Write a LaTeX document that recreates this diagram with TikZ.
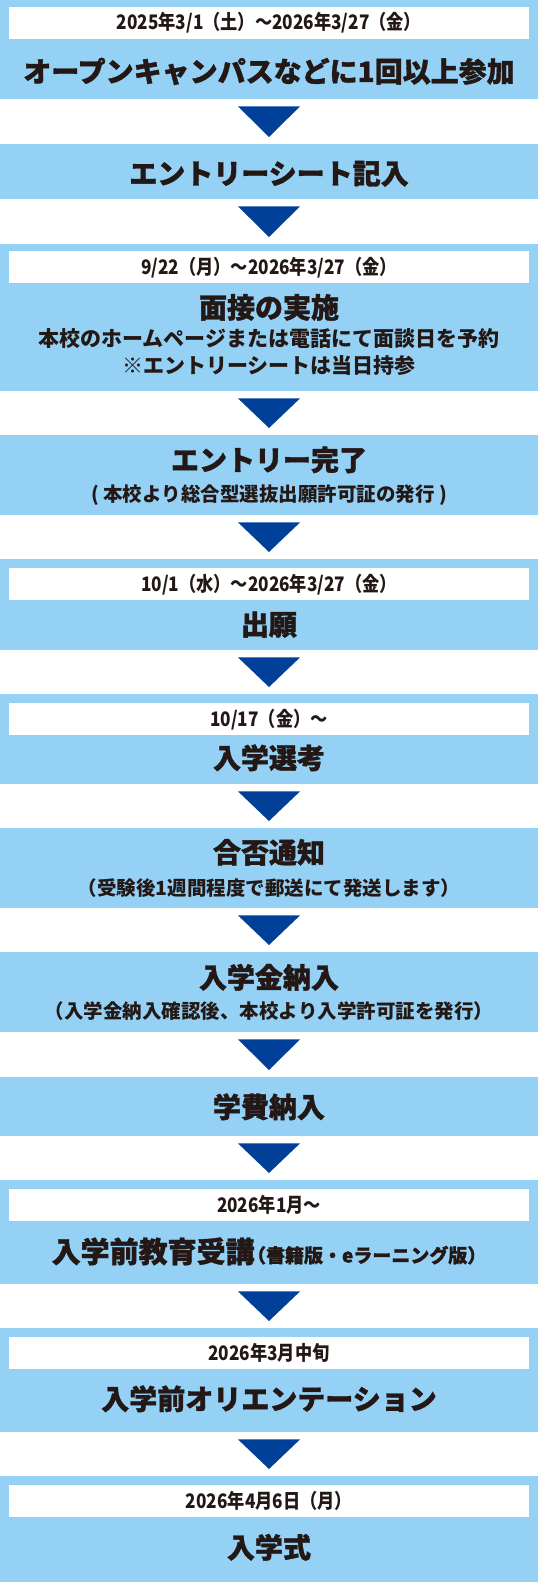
\documentclass[tikz,border=0pt]{standalone}
\usepackage{fontspec}
\setmainfont{Noto Sans CJK JP}
\newfontfamily\datefont{Noto Sans CJK JP}[FakeStretch=0.86]
\newfontfamily\titlefont{Noto Sans CJK JP}[BoldFeatures={FakeBold=1.2}]
\usetikzlibrary{calc}
\definecolor{skyblue}{HTML}{94D1F5}
\definecolor{navyblue}{HTML}{004098}
\definecolor{inkblack}{HTML}{231815}

\begin{document}
\begin{tikzpicture}[x=1bp,y=-1bp,
  stepbox/.style={fill=skyblue,inner sep=0,minimum width=538bp,anchor=north},
  datebox/.style={fill=white,inner sep=0,minimum width=519bp,minimum height=32bp,anchor=north,text=inkblack,font=\datefont\bfseries\fontsize{20bp}{20bp}\selectfont},
  title/.style={anchor=base,inner sep=0,text=inkblack,font=\titlefont\bfseries\fontsize{28bp}{28bp}\selectfont},
  note/.style={anchor=base,inner sep=0,text=inkblack,font=\bfseries\fontsize{19.5bp}{19.5bp}\selectfont}]
  \useasboundingbox (0,0) rectangle (538,1582);

  % draw step boxes
  \node[stepbox,minimum height=99bp] (s1) at (269,0) {};
  \node[stepbox,minimum height=55bp] (s2) at (269,144) {};
  \node[stepbox,minimum height=147bp] (s3) at (269,244) {};
  \node[stepbox,minimum height=80bp] (s4) at (269,435) {};
  \node[stepbox,minimum height=91bp] (s5) at (269,559) {};
  \node[stepbox,minimum height=90bp] (s6) at (269,694) {};
  \node[stepbox,minimum height=80bp] (s7) at (269,828) {};
  \node[stepbox,minimum height=80bp] (s8) at (269,952) {};
  \node[stepbox,minimum height=59bp] (s9) at (269,1077) {};
  \node[stepbox,minimum height=104bp] (s10) at (269,1180) {};
  \node[stepbox,minimum height=104bp] (s11) at (269,1328) {};
  \node[stepbox,minimum height=106bp] (s12) at (269,1476) {};

  % date labels
  \node[datebox] (d1) at ($(s1.north)+(0,7)$) {2025年3/1（土）～2026年3/27（金）};
  \node[datebox] (d3) at ($(s3.north)+(0,7)$) {9/22（月）～2026年3/27（金）};
  \node[datebox] (d5) at ($(s5.north)+(0,9)$) {10/1（水）～2026年3/27（金）};
  \node[datebox] (d6) at ($(s6.north)+(0,9)$) {10/17（金）～};
  \node[datebox] (d10) at ($(s10.north)+(0,9)$) {2026年1月～};
  \node[datebox] (d11) at ($(s11.north)+(0,9)$) {2026年3月中旬};
  \node[datebox] (d12) at ($(s12.north)+(0,9)$) {2026年4月6日（月）};

  % step titles
  \node[title] (t1) at (269,82) {オープンキャンパスなどに1回以上参加};
  \node[title] (t2) at (269,184) {エントリーシート記入};
  \node[title] (t3) at (269,318) {面接の実施};
  \node[title] (t4) at (269,470.5) {エントリー完了};
  \node[title] (t5) at (269,635) {出願};
  \node[title] (t6) at (269,768.5) {入学選考};
  \node[title] (t7) at (269,863) {合否通知};
  \node[title] (t8) at (269,988) {入学金納入};
  \node[title] (t9) at (269,1117.5) {学費納入};
  \node[title,font=\titlefont\bfseries\fontsize{29bp}{29bp}\selectfont] (t10) at (269,1262.5)
    {入学前教育受講{\fontsize{19bp}{19bp}\selectfont\kern-0.4em（書籍版・eラーニング版）}};
  \node[title] (t11) at (269,1409.5) {入学前オリエンテーション};
  \node[title] (t12) at (269,1558) {入学式};

  % notes under the titles
  \node[note,font=\bfseries\fontsize{21bp}{21bp}\selectfont] (n3a) at (269,346.5) {本校のホームページまたは電話にて面談日を予約};
  \node[note,font=\bfseries\fontsize{21bp}{21bp}\selectfont] (n3b) at (269,373) {※エントリーシートは当日持参};
  \node[note] (n4) at (269,501.5) {( 本校より総合型選抜出願許可証の発行 )};
  \node[note] (n7) at (269,895) {（受験後1週間程度で郵送にて発送します）};
  \node[note] (n8) at (269,1018.5) {（入学金納入確認後、本校より入学許可証を発行）};

  % arrows between the steps
  \fill[navyblue] ($(s1.south)+(-31,7)$) -- ($(s1.south)+(31,7)$) -- ($(s2.north)+(0,-7)$) -- cycle;
  \fill[navyblue] ($(s2.south)+(-31,7)$) -- ($(s2.south)+(31,7)$) -- ($(s3.north)+(0,-7)$) -- cycle;
  \fill[navyblue] ($(s3.south)+(-31,7)$) -- ($(s3.south)+(31,7)$) -- ($(s4.north)+(0,-7)$) -- cycle;
  \fill[navyblue] ($(s4.south)+(-31,7)$) -- ($(s4.south)+(31,7)$) -- ($(s5.north)+(0,-7)$) -- cycle;
  \fill[navyblue] ($(s5.south)+(-31,7)$) -- ($(s5.south)+(31,7)$) -- ($(s6.north)+(0,-7)$) -- cycle;
  \fill[navyblue] ($(s6.south)+(-31,7)$) -- ($(s6.south)+(31,7)$) -- ($(s7.north)+(0,-7)$) -- cycle;
  \fill[navyblue] ($(s7.south)+(-31,7)$) -- ($(s7.south)+(31,7)$) -- ($(s8.north)+(0,-7)$) -- cycle;
  \fill[navyblue] ($(s8.south)+(-31,7)$) -- ($(s8.south)+(31,7)$) -- ($(s9.north)+(0,-7)$) -- cycle;
  \fill[navyblue] ($(s9.south)+(-31,7)$) -- ($(s9.south)+(31,7)$) -- ($(s10.north)+(0,-7)$) -- cycle;
  \fill[navyblue] ($(s10.south)+(-31,7)$) -- ($(s10.south)+(31,7)$) -- ($(s11.north)+(0,-7)$) -- cycle;
  \fill[navyblue] ($(s11.south)+(-31,7)$) -- ($(s11.south)+(31,7)$) -- ($(s12.north)+(0,-7)$) -- cycle;
\end{tikzpicture}
\end{document}
